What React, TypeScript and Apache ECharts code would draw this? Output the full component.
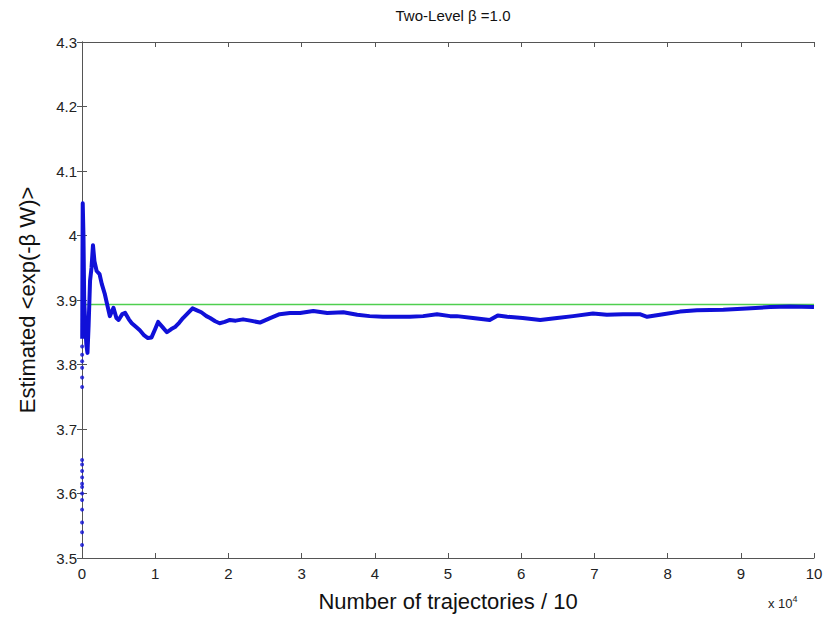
import React, { useEffect, useRef } from "react";
import * as echarts from "echarts";

// Running estimate of <exp(-βW)> versus number of trajectories (x in units of 10^4)
const estX = [
  0.003, 0.006, 0.01, 0.02, 0.03, 0.045, 0.06, 0.075, 0.09, 0.11, 0.13, 0.15, 0.17, 0.2, 0.24,
  0.27, 0.31, 0.34, 0.38, 0.43, 0.47, 0.5, 0.55, 0.59, 0.64, 0.68, 0.74, 0.79, 0.85, 0.9, 0.95,
  1.0, 1.04, 1.1, 1.16, 1.22, 1.27, 1.33, 1.38, 1.45, 1.51, 1.57, 1.63, 1.7, 1.75, 1.82, 1.88,
  1.95, 2.02, 2.1, 2.2, 2.3, 2.43, 2.57, 2.7, 2.84, 2.98, 3.16, 3.35, 3.57, 3.76, 3.93, 4.11,
  4.3, 4.48, 4.66, 4.85, 5.03, 5.12, 5.34, 5.57, 5.68, 5.81, 6.02, 6.26, 6.49, 6.71, 6.98, 7.17,
  7.39, 7.62, 7.72, 7.94, 8.17, 8.4, 8.76, 9.08, 9.4, 9.67, 10.0,
];
const estY = [
  3.84, 3.95, 4.05, 4.0, 3.9, 3.86, 3.83, 3.818, 3.86, 3.93, 3.95, 3.985, 3.96, 3.945, 3.94,
  3.925, 3.91, 3.895, 3.875, 3.888, 3.872, 3.869, 3.878, 3.88, 3.87, 3.864, 3.858, 3.853, 3.845,
  3.841, 3.842, 3.855, 3.866, 3.858, 3.85, 3.855, 3.858, 3.865, 3.872, 3.88, 3.887, 3.884, 3.881,
  3.875, 3.872, 3.867, 3.864, 3.866, 3.869, 3.868, 3.87, 3.868, 3.865, 3.872, 3.878, 3.88, 3.88,
  3.883, 3.88, 3.881, 3.877, 3.875, 3.874, 3.874, 3.874, 3.875, 3.878, 3.875, 3.875, 3.872,
  3.869, 3.876, 3.874, 3.872, 3.869, 3.872, 3.875, 3.879, 3.877, 3.878, 3.878, 3.874, 3.878,
  3.882, 3.884, 3.885, 3.887, 3.889, 3.89, 3.889,
];

// First few estimates (very small sample sizes), drawn as loose dots
const earlyX = [
  0.001, 0.001, 0.001, 0.001, 0.001, 0.0015, 0.0015, 0.0015, 0.0015, 0.0015, 0.0015, 0.0015,
  0.002, 0.002, 0.002, 0.002, 0.002, 0.002,
];
const earlyY = [
  3.52, 3.54, 3.555, 3.575, 3.59, 3.6, 3.61, 3.615, 3.625, 3.635, 3.645, 3.652, 3.765, 3.78,
  3.795, 3.805, 3.815, 3.828,
];

// Exact value of <exp(-βW)>
const exactValue = 3.893;

const xTicks = [0, 10];
const yRange = [3.5, 4.3];

export default function App() {
  const ref = useRef<HTMLDivElement>(null);

  useEffect(() => {
    if (!ref.current) return;
    const chart = echarts.init(ref.current, null, { renderer: "svg" });
    const font = "Liberation Sans, Arial, sans-serif";
    const axisColor = "#555";
    const tickLabel = { color: "#222", fontSize: 15, fontFamily: font };
    const yFmt = (v: number) => String(+v.toFixed(1));

    chart.setOption({
      animation: false,
      backgroundColor: "#fff",
      title: {
        text: "Two-Level β =1.0",
        left: 448,
        textAlign: "center",
        top: 3,
        textStyle: { fontSize: 15, fontWeight: "normal", color: "#111", fontFamily: font },
      },
      grid: { left: 82, right: 13, top: 42, bottom: 59 },
      xAxis: [
        {
          type: "value",
          min: xTicks[0],
          max: xTicks[1],
          interval: 1,
          name: "Number of trajectories / 10",
          nameLocation: "middle",
          nameGap: 32,
          nameTextStyle: { fontSize: 22, color: "#111", fontFamily: font },
          axisLine: { show: true, lineStyle: { color: axisColor, width: 1 } },
          axisTick: { show: true, inside: true, length: 5, lineStyle: { color: axisColor } },
          axisLabel: { ...tickLabel, margin: 8 },
          splitLine: { show: false },
        },
        {
          type: "value",
          position: "top",
          min: xTicks[0],
          max: xTicks[1],
          interval: 1,
          axisLine: { show: true, lineStyle: { color: axisColor, width: 1 } },
          axisTick: { show: true, inside: true, length: 5, lineStyle: { color: axisColor } },
          axisLabel: { show: false },
          splitLine: { show: false },
        },
      ],
      yAxis: [
        {
          type: "value",
          min: yRange[0],
          max: yRange[1],
          interval: 0.1,
          name: "Estimated <exp(-β W)>",
          nameLocation: "middle",
          nameRotate: 90,
          nameGap: 44,
          nameTextStyle: { fontSize: 22, color: "#111", fontFamily: font },
          axisLine: { show: true, lineStyle: { color: axisColor, width: 1 } },
          axisTick: { show: true, inside: true, length: 5, lineStyle: { color: axisColor } },
          axisLabel: { ...tickLabel, margin: 5, formatter: yFmt },
          splitLine: { show: false },
        },
        {
          type: "value",
          position: "right",
          min: yRange[0],
          max: yRange[1],
          interval: 0.1,
          axisLine: { show: true, lineStyle: { color: axisColor, width: 1 } },
          axisTick: { show: true, inside: true, length: 5, lineStyle: { color: axisColor } },
          axisLabel: { show: false },
          splitLine: { show: false },
        },
      ],
      graphic: [
        {
          type: "text",
          left: 768,
          top: 594,
          style: {
            text: "x 10{sup|4}",
            fill: "#222",
            font: `13px ${font}`,
            rich: { sup: { fontSize: 9, verticalAlign: "top", padding: [0, 0, 9, 0] } },
          },
        },
      ],
      series: [
        {
          type: "line",
          data: [
            [xTicks[0], exactValue],
            [xTicks[1], exactValue],
          ],
          showSymbol: false,
          lineStyle: { color: "#4fcf4f", width: 1.5 },
          z: 2,
        },
        {
          type: "line",
          data: estX.map((x, i) => [x, estY[i]]),
          showSymbol: false,
          lineStyle: { color: "#1010d8", width: 4, join: "round" },
          z: 3,
        },
        {
          type: "scatter",
          data: earlyX.map((x, i) => [x, earlyY[i]]),
          symbolSize: 4,
          itemStyle: { color: "#1010d8" },
          z: 3,
        },
      ],
    });

    return () => chart.dispose();
  }, []);

  return (
    <div
      ref={ref}
      style={{ position: "fixed", left: 0, top: 0, width: 827, height: 617 }}
    />
  );
}
